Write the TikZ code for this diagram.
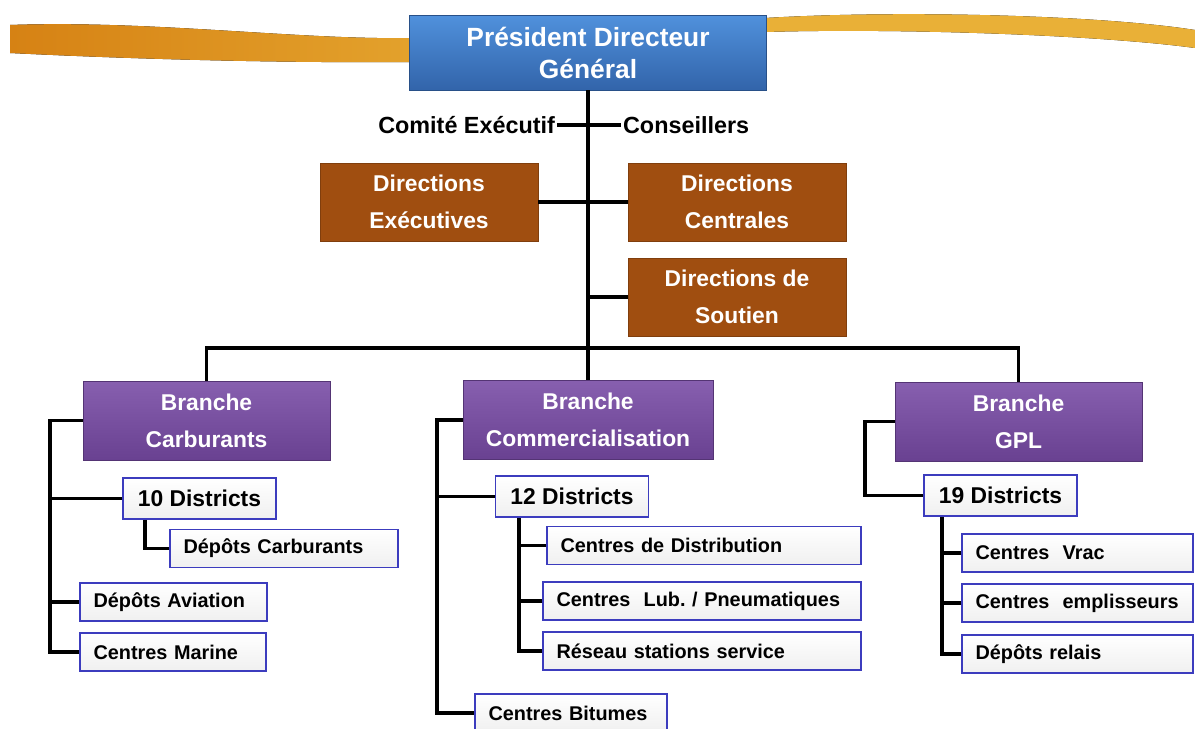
\documentclass[tikz,border=0pt]{standalone}
\usepackage{fontspec}
\setmainfont{Liberation Sans}
\frenchspacing

\definecolor{pdgtop}{RGB}{80,145,220}
\definecolor{pdgbot}{RGB}{50,100,170}
\definecolor{dirfill}{RGB}{160,78,16}
\definecolor{brtop}{RGB}{135,95,175}
\definecolor{brbot}{RGB}{105,65,145}
\definecolor{leafline}{RGB}{60,60,190}
\definecolor{swoosh}{RGB}{233,176,55}
\definecolor{swooshdark}{RGB}{214,130,20}

\begin{document}
\begin{tikzpicture}[x=0.02cm, y=-0.02cm,
    link/.style={line width=2.2pt},
    pdgbox/.style={draw=pdgbot!80!black, top color=pdgtop, bottom color=pdgbot, text=white, align=center, minimum width=7.14cm, minimum height=1.5cm, font=\bfseries\fontsize{15}{18.2}\selectfont},
    dirbox/.style={draw=dirfill!80!black, fill=dirfill, text=white, align=center, minimum width=4.36cm, minimum height=1.56cm, font=\bfseries\fontsize{13}{21}\selectfont},
    branchbox/.style={draw=brbot!80!black, top color=brtop, bottom color=brbot, text=white, align=center, minimum width=#1, minimum height=1.58cm, font=\bfseries\fontsize{13}{21}\selectfont},
    distbox/.style={draw=leafline, line width=0.9pt, top color=white, bottom color=gray!12, minimum width=3.06cm, minimum height=0.82cm, font=\bfseries\fontsize{13}{15}\selectfont},
    leafbox/.style={draw=leafline, line width=0.9pt, top color=white, bottom color=gray!12, text width=#1, inner xsep=0.27cm, align=left, minimum height=0.76cm, font=\bfseries\fontsize{11.3}{13}\selectfont},
    toplabel/.style={inner sep=1pt, font=\bfseries\fontsize{13.3}{15}\selectfont}]

    \useasboundingbox (0,0) rectangle (1195,729);

    % swoosh behind the top box
    \fill[left color=swooshdark, right color=swoosh, middle color=swoosh] (10,25) .. controls (150,20) and (300,40) .. (410,38) -- (765,18) .. controls (900,10) and (1100,15) .. (1195,30) -- (1195,48) .. controls (1100,35) and (900,28) .. (765,32) -- (410,62) .. controls (300,63) and (150,60) .. (10,53) -- cycle;

    \node[pdgbox] (pdg) at (588,52.5) {Président Directeur\\Général};
    \node[toplabel, anchor=east] (comite) at (557,125) {Comité Exécutif};
    \node[toplabel, anchor=west] (conseil) at (621,125) {Conseillers};

    \node[dirbox] (direx) at (429,202) {Directions\\Exécutives};
    \node[dirbox] (dircen) at (737,202) {Directions\\Centrales};
    \node[dirbox] (dirsou) at (737,297) {Directions de\\Soutien};

    \node[branchbox=4.94cm] (carb) at (206.5,420.5) {Branche\\Carburants};
    \node[branchbox=5.0cm] (comm) at (588,420) {Branche\\Commercialisation};
    \node[branchbox=4.94cm] (gpl) at (1018.5,421.5) {Branche\\GPL};

    % Branche Carburants
    \node[distbox] (d10) at (199.5,498.5) {10 Districts};
    \node[leafbox=4.02cm] (depcarb) at (284,548.5) {Dépôts Carburants};
    \node[leafbox=3.2cm] (aviation) at (173.5,602) {Dépôts Aviation};
    \node[leafbox=3.18cm] (marine) at (173,652) {Centres Marine};

    % Branche Commercialisation
    \node[distbox] (d12) at (572,496.5) {12 Districts};
    \node[leafbox=5.74cm] (distrib) at (704,545.5) {Centres de Distribution};
    \node[leafbox=5.82cm] (lub) at (702,601) {Centres\ \ Lub. / Pneumatiques};
    \node[leafbox=5.82cm] (reseau) at (702,651) {Réseau stations service};
    \node[leafbox=3.3cm] (bitumes) at (571,713) {Centres Bitumes};

    % Branche GPL
    \node[distbox] (d19) at (1000.5,495.5) {19 Districts};
    \node[leafbox=4.08cm] (vrac) at (1077.5,553) {Centres\ \ Vrac};
    \node[leafbox=4.08cm] (empl) at (1077.5,603) {Centres\ \ emplisseurs};
    \node[leafbox=4.08cm] (relais) at (1077.5,654) {Dépôts relais};

    \coordinate (bar) at (588,348);
    \coordinate (carbrail) at (50,652);
    \coordinate (d10rail) at (145,548.5);
    \coordinate (commrail) at (437,713);
    \coordinate (d12rail) at (519,651);
    \coordinate (gplrail) at (865,495.5);
    \coordinate (d19rail) at (942,654);

    % top of the tree
    \draw[link] (pdg.south) -- (bar);
    \draw[link] (comite.east) -- (conseil.west);
    \draw[link] (direx.east) -- (dircen.west);
    \draw[link] (dirsou.west) -- (dirsou.west -| pdg.south);
    \draw[link] (carb.north) |- (bar) -| (gpl.north);
    \draw[link] (bar) -- (comm.north);

    % Carburants
    \draw[link] (carb.west) -| (carbrail) -- (marine.west);
    \draw[link] (d10.west) -- (d10.west -| carbrail);
    \draw[link] (aviation.west) -- (aviation.west -| carbrail);
    \draw[link] (d10rail |- d10.south) |- (depcarb.west);

    % Commercialisation
    \draw[link] (comm.west) -| (commrail) -- (bitumes.west);
    \draw[link] (d12.west) -- (d12.west -| commrail);
    \draw[link] (d12rail |- d12.south) |- (reseau.west);
    \draw[link] (distrib.west) -- (distrib.west -| d12rail);
    \draw[link] (lub.west) -- (lub.west -| d12rail);

    % GPL
    \draw[link] (gpl.west) -| (gplrail) -- (d19.west);
    \draw[link] (d19rail |- d19.south) |- (relais.west);
    \draw[link] (vrac.west) -- (vrac.west -| d19rail);
    \draw[link] (empl.west) -- (empl.west -| d19rail);

\end{tikzpicture}
\end{document}
